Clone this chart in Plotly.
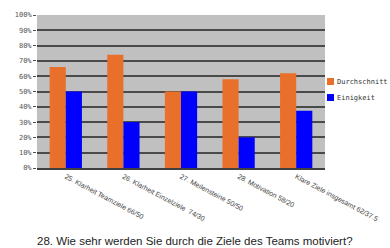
import plotly.graph_objects as go

categories = [
    "25. Klarheit Teamziele 66/50",
    "26. Klarheit Einzelziele  74/30",
    "27. Meilensteine 50/50",
    "28. Motivation 58/20",
    "Klare Ziele insgesamt 62/37.5",
]
durchschnitt = [66, 74, 50, 58, 62]
einigkeit = [50, 30, 50, 20, 37.5]
y_ticks = [0, 10, 20, 30, 40, 50, 60, 70, 80, 90, 100]
y_tick_labels = [f"{v}%" for v in y_ticks]

ORANGE = "#E8702A"
BLUE = "#0000FF"

fig = go.Figure()
fig.add_trace(go.Bar(x=categories, y=durchschnitt, name="Durchschnitt",
                     marker=dict(color=ORANGE, line=dict(width=0))))
fig.add_trace(go.Bar(x=categories, y=einigkeit, name="Einigkeit",
                     marker=dict(color=BLUE, line=dict(width=0))))

fig.update_layout(
    width=390, height=248,
    margin=dict(l=37, r=65, t=15, b=80, autoexpand=False),
    paper_bgcolor="white",
    plot_bgcolor="#C0C0C0",
    barmode="group",
    bargap=0.44,
    bargroupgap=0,
    showlegend=False,
    font=dict(family="Liberation Sans", color="#333"),
)
fig.update_xaxes(
    type="category",
    automargin=False,
    tickangle=28,
    tickfont=dict(family="Liberation Sans", size=7, color="#444"),
    showgrid=False,
    showline=True, linecolor="#404040", linewidth=2,
    ticks="",
)
fig.update_yaxes(
    automargin=False,
    range=[0, 100],
    tickvals=y_ticks,
    ticktext=y_tick_labels,
    tickfont=dict(family="DejaVu Sans Mono", size=7, color="#555"),
    showgrid=True, gridcolor="#4a4a4a", gridwidth=1.5,
    zeroline=False,
    showline=False,
    ticks="outside", ticklen=3, tickcolor="#505050",
)

# manual legend
legend_items = [("Durchschnitt", ORANGE, 81.5), ("Einigkeit", BLUE, 97.5)]
for label, col, ypx in legend_items:
    fig.add_shape(type="rect", xref="paper", yref="paper",
                  x0=1 + (327 - 325) / 288, x1=1 + (334 - 325) / 288,
                  y0=(168 - ypx - 3.5) / 153, y1=(168 - ypx + 3.5) / 153,
                  fillcolor=col, line=dict(width=0))
    fig.add_annotation(xref="paper", yref="paper",
                       x=1 + (335 - 325) / 288, y=(168 - ypx) / 153,
                       xanchor="left", yanchor="middle", showarrow=False,
                       text=label,
                       font=dict(family="DejaVu Sans Mono", size=7, color="#333"))

fig.add_annotation(xref="paper", yref="paper", x=(195 - 37) / 288,
                   y=(168 - 241) / 153, xanchor="center", yanchor="middle",
                   showarrow=False,
                   text="28. Wie sehr werden Sie durch die Ziele des Teams motiviert?",
                   font=dict(family="Liberation Sans", size=11.5, color="#222"))

fig.write_html("out.html",
               config={"displayModeBar": False},
               post_script="document.body.style.margin='0';document.body.style.overflow='hidden';")
